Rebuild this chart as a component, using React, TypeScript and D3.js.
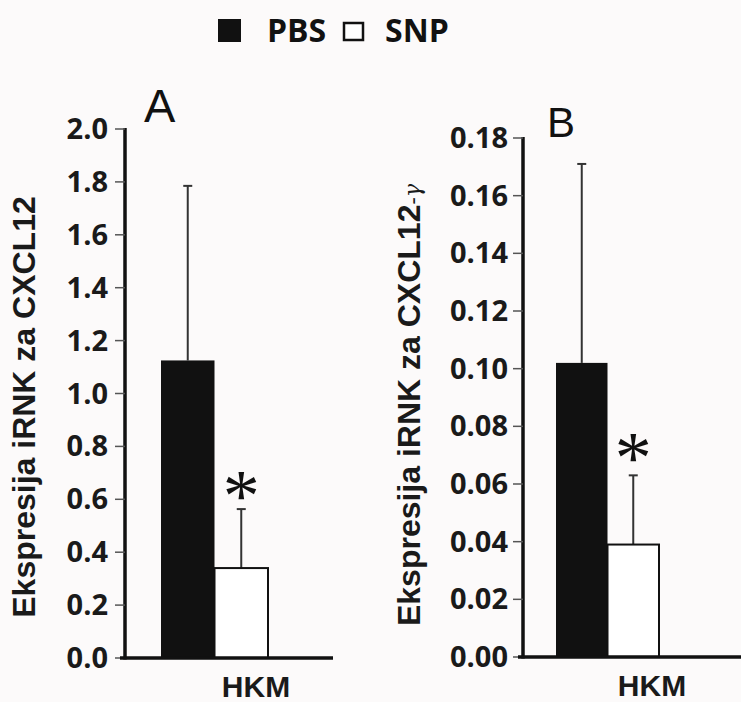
import React from "react";
import * as d3 from "d3";

const categories = ["PBS", "SNP"];
const valuesA = [1.125, 0.34];
const errorsA = [0.66, 0.223];
const valuesB = [0.102, 0.039];
const errorsB = [0.069, 0.024];
const ticksA = [0, 0.2, 0.4, 0.6, 0.8, 1.0, 1.2, 1.4, 1.6, 1.8, 2.0];
const ticksB = [0, 0.02, 0.04, 0.06, 0.08, 0.1, 0.12, 0.14, 0.16, 0.18];
const xLabel = "HKM";
const yLabelA = "Ekspresija iRNK za CXCL12";
const yLabelB = "Ekspresija iRNK za CXCL12";
const yLabelBSuffix = "-γ";
const panelLetters = ["A", "B"];

const TICK_FONT = "'Open Sans', sans-serif";
const LABEL_FONT = "'Liberation Sans', Arial, sans-serif";

type PanelProps = {
  values: number[];
  errors: number[];
  ticks: number[];
  fmt: (v: number) => string;
  yDomain: [number, number];
  yRange: [number, number];
  axisX: number;
  barRange: [number, number];
  xAxisEnd: number;
  tickLabelX: number;
  yLabel: string;
  yLabelSuffix?: string;
  yLabelX: number;
  yLabelY: number;
  letter: string;
  letterX: number;
  letterY: number;
  letterSize: number;
  hkmX: number;
  hkmY: number;
  starGap: number;
};

function Panel(p: PanelProps) {
  const y = d3.scaleLinear().domain(p.yDomain).range(p.yRange);
  const x = d3.scaleBand().domain(categories).range(p.barRange).padding(0);
  const y0 = y(0);
  return (
    <g>
      {categories.map((c, i) => {
        const x0 = x(c)!;
        const w = x.bandwidth();
        const top = y(p.values[i]);
        const cx = x0 + w / 2;
        const et = y(p.values[i] + p.errors[i]);
        return (
          <g key={c}>
            <line x1={cx} x2={cx} y1={top} y2={et} stroke="#333" strokeWidth={2} />
            <line x1={cx - 4.5} x2={cx + 4.5} y1={et} y2={et} stroke="#333" strokeWidth={2} />
            <rect
              x={x0}
              y={top}
              width={w}
              height={y0 - top}
              fill={i === 0 ? "#111" : "#fff"}
              stroke="#111"
              strokeWidth={i === 0 ? 0 : 2}
            />
            {i === 1 && (
              <text
                x={cx}
                y={et + p.starGap}
                textAnchor="middle"
                fontFamily="'Liberation Serif', serif"
                fontSize={74}
                fill="#111"
              >
                *
              </text>
            )}
          </g>
        );
      })}
      <line x1={p.axisX} x2={p.axisX} y1={y(p.yDomain[1]) - 1} y2={y0 + 1.5} stroke="#111" strokeWidth={3.5} />
      {p.ticks.map((t) => (
        <g key={t}>
          <line x1={p.axisX - 10} x2={p.axisX} y1={y(t)} y2={y(t)} stroke="#555" strokeWidth={1.5} />
          <text
            x={p.tickLabelX}
            y={y(t) + 10}
            textAnchor="end"
            fontFamily={TICK_FONT}
            fontWeight="bold"
            fontSize={29}
            fill="#1a1a1a"
          >
            {p.fmt(t)}
          </text>
        </g>
      ))}
      <line x1={p.axisX - 5} x2={p.xAxisEnd} y1={y0} y2={y0} stroke="#111" strokeWidth={3.5} />
      <text
        x={p.hkmX}
        y={p.hkmY}
        textAnchor="middle"
        fontFamily={LABEL_FONT}
        fontWeight="bold"
        fontSize={30}
        fill="#1a1a1a"
      >
        {xLabel}
      </text>
      <text
        transform={`translate(${p.yLabelX},${p.yLabelY}) rotate(-90)`}
        textAnchor="middle"
        fontFamily={LABEL_FONT}
        fontWeight="bold"
        fontSize={32}
        fill="#1a1a1a"
      >
        {p.yLabel}
        {p.yLabelSuffix && (
          <tspan fontWeight="normal" fontSize={22} fontFamily="'DejaVu Serif', serif" fontStyle="italic">
            {p.yLabelSuffix}
          </tspan>
        )}
      </text>
      <text
        x={p.letterX}
        y={p.letterY}
        fontFamily={LABEL_FONT}
        fontSize={p.letterSize}
        fill="#111"
      >
        {p.letter}
      </text>
    </g>
  );
}

export default function App() {
  return (
    <svg
      width={741}
      height={702}
      style={{ position: "absolute", left: 0, top: 0, display: "block" }}
    >
      <rect x={0} y={0} width={741} height={702} fill="#fcfafa" />
      <rect x={218} y={19} width={23} height={23} fill="#111" />
      <text x={267} y={42} fontFamily={TICK_FONT} fontWeight="bold" fontSize={32} fill="#111">
        {categories[0]}
      </text>
      <rect x={344} y={23} width={19} height={17} fill="#fff" stroke="#111" strokeWidth={2.5} />
      <text x={385} y={42} fontFamily={TICK_FONT} fontWeight="bold" fontSize={32} fill="#111">
        {categories[1]}
      </text>
      <Panel
        values={valuesA}
        errors={errorsA}
        ticks={ticksA}
        fmt={d3.format(".1f")}
        yDomain={[0, 2]}
        yRange={[658, 129]}
        axisX={125}
        barRange={[161, 268]}
        xAxisEnd={333}
        tickLabelX={108}
        yLabel={yLabelA}
        yLabelX={35}
        yLabelY={407}
        letter={panelLetters[0]}
        letterX={144}
        letterY={122}
        letterSize={47}
        hkmX={256}
        hkmY={697}
        starGap={12}
      />
      <Panel
        values={valuesB}
        errors={errorsB}
        ticks={ticksB}
        fmt={d3.format(".2f")}
        yDomain={[0, 0.18]}
        yRange={[657, 138]}
        axisX={523}
        barRange={[556, 659]}
        xAxisEnd={741}
        tickLabelX={508}
        yLabel={yLabelB}
        yLabelSuffix={yLabelBSuffix}
        yLabelX={420}
        yLabelY={405}
        letter={panelLetters[1]}
        letterX={547}
        letterY={137}
        letterSize={42}
        hkmX={652}
        hkmY={696}
        starGap={8}
      />
    </svg>
  );
}
